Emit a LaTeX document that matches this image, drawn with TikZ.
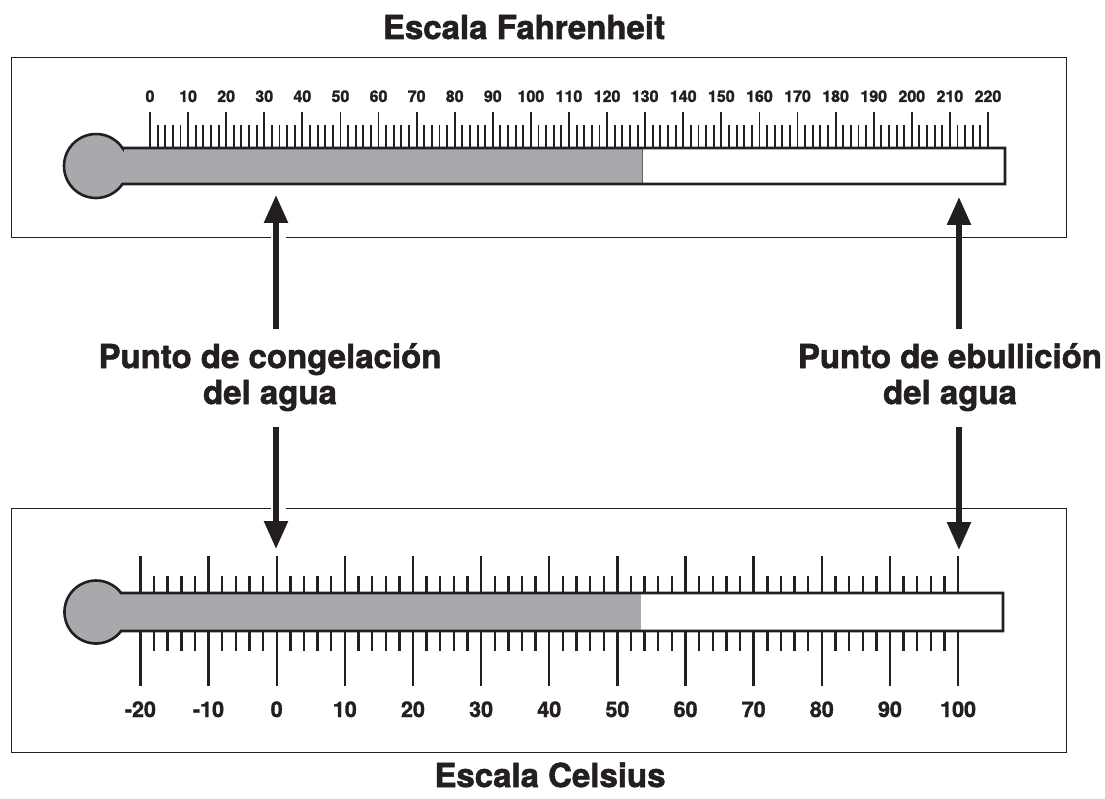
\documentclass[tikz,border=0pt]{standalone}
\usepackage{fontspec}
\setmainfont{TeX Gyre Heros}
\newfontfamily\heavyfont{TeX Gyre Heros}[UprightFont={* Bold}, FakeBold=1.6]
\usetikzlibrary{arrows.meta}
\definecolor{ink}{HTML}{231F20}
\definecolor{merc}{HTML}{A7A9AC}
\begin{document}
\begin{tikzpicture}[x=1pt,y=-1pt,
  boxframe/.style={draw=ink, line width=1.4pt, inner sep=0pt, anchor=north west},
  tubeline/.style={draw=ink, line width=2.6pt},
  tickF/.style={draw=ink, line width=1.9pt},
  tickC/.style={draw=ink, line width=2.4pt},
  bigarrow/.style={draw=ink, line width=5.5pt, -{Triangle[width=23pt,length=28pt]}},
  gapline/.style={draw=white, line width=15pt},
  ttl/.style={font=\heavyfont\fontsize{33}{36}\selectfont, text=ink, inner sep=0pt, anchor=base},
  ptlabel/.style={font=\heavyfont\fontsize{33}{36}\selectfont, text=ink, inner sep=0pt, anchor=base},
  numF/.style={font=\heavyfont\fontsize{16}{18}\selectfont, text=ink, inner sep=0pt, anchor=base},
  numC/.style={font=\heavyfont\fontsize{21.5}{24}\selectfont, text=ink, inner sep=0pt, anchor=base},
]
\useasboundingbox (0,0) rectangle (1105,799);
\fill[white] (0,0) rectangle (1105,799);

% frames
\node[boxframe, minimum width=1055pt, minimum height=180pt] (fbox) at (11,57) {};
\node[boxframe, minimum width=1055pt, minimum height=244pt] (cbox) at (11,508) {};

% titles
\node[ttl] (ftitle) at (524,39) {Escala Fahrenheit};
\node[ttl] (ctitle) at (550,787) {Escala Celsius};

% ---------- Fahrenheit thermometer ----------
\fill[merc] (96,166) circle[radius=32];
\fill[merc] (110,148) rectangle (642,184);
\fill[white] (642,148) rectangle (1005,184);
\draw[ink!70, line width=0.8pt] (642,148) -- (642,184);
\foreach \t in {0,2,...,220}{
  \pgfmathsetmacro\xx{150+3.809*\t}
  \pgfmathsetmacro\yt{mod(\t,10)==0 ? 112 : 125}
  \draw[tickF] (\xx,\yt) -- (\xx,148);
}
\foreach \t in {0,10,...,220}{
  \node[numF] (f\t) at ({150+3.809*\t},102) {\t};
}
\draw[tubeline] (122.46,148) -- (1005,148) -- (1005,184) -- (122.46,184)
  arc[start angle=34.23, end angle=325.77, radius=32] -- cycle;

% ---------- Celsius thermometer ----------
\fill[merc] (96,612) circle[radius=31.5];
\fill[merc] (110,593) rectangle (641,631);
\fill[white] (641,593) rectangle (1003,631);
\foreach \t in {-20,-18,...,100}{
  \pgfmathsetmacro\xx{276.7+6.814*\t}
  \pgfmathsetmacro\yt{mod(\t,10)==0 ? 556 : 576}
  \pgfmathsetmacro\yb{mod(\t,10)==0 ? 686 : 651}
  \draw[tickC] (\xx,\yt) -- (\xx,593);
  \draw[tickC] (\xx,631) -- (\xx,\yb);
}
\foreach \t/\n in {-20/m20,-10/m10,0/c0,10/c10,20/c20,30/c30,40/c40,50/c50,60/c60,70/c70,80/c80,90/c90,100/c100}{
  \node[numC] (\n) at ({276.7+6.814*\t},717) {\t};
}
\draw[tubeline] (121.1,593) -- (1003,593) -- (1003,631) -- (121.1,631)
  arc[start angle=37.1, end angle=322.9, radius=31.5] -- cycle;

% ---------- labels ----------
\node[ptlabel] (fz1) at (270,368) {Punto de congelación};
\node[ptlabel] (fz2) at (270,404) {del agua};
\node[ptlabel] (bp1) at (950,368) {Punto de ebullición};
\node[ptlabel] (bp2) at (950,404) {del agua};

% ---------- arrows ----------
\coordinate (fzA) at (276,329);
\coordinate (fzF) at (276,195);
\coordinate (fzB) at (276,427);
\coordinate (fzC) at (276,549);
\coordinate (bpA) at (959,329);
\coordinate (bpF) at (959,197);
\coordinate (bpB) at (959,427);
\coordinate (bpC) at (959,550);
\draw[gapline] (278,231) -- (278,243);
\draw[gapline] (278,502) -- (278,514);
\draw[bigarrow] (fzA) -- (fzF);
\draw[bigarrow] (fzB) -- (fzC);
\draw[bigarrow] (bpA) -- (bpF);
\draw[bigarrow] (bpB) -- (bpC);
\end{tikzpicture}
\end{document}
